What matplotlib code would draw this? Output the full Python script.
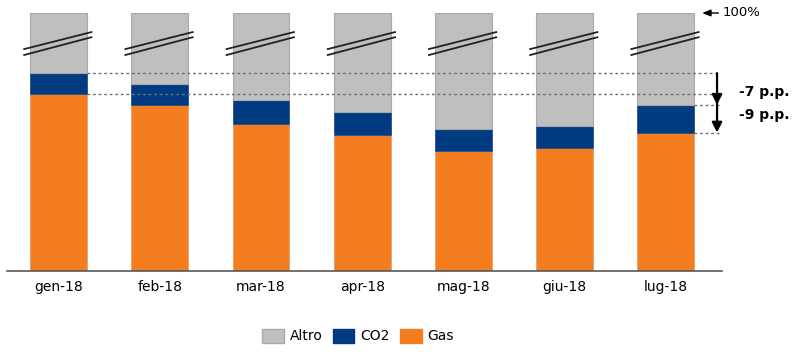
import numpy as np
import matplotlib
matplotlib.use("Agg")
import matplotlib.pyplot as plt
from matplotlib.transforms import blended_transform_factory
from matplotlib.patches import Patch

# ---- data ----
months = ["gen-18", "feb-18", "mar-18", "apr-18", "mag-18", "giu-18", "lug-18"]
gas = [40.2, 37.7, 33.4, 30.8, 27.1, 27.8, 31.4]
co2 = [4.7, 4.7, 5.4, 5.2, 5.1, 5.1, 6.3]
series_names = ["Altro", "CO2", "Gas"]
delta_labels = ["-7 p.p.", "-9 p.p."]
top_label = "100%"

gas_a = np.array(gas)
co2_a = np.array(co2)
altro_a = 100.0 - gas_a - co2_a
x = np.arange(len(months))

C_GAS = "#F47D20"
C_CO2 = "#003B82"
C_ALT = "#BFBFBF"

# broken-axis style scale: linear up to T, compressed above
T = 50.0
K = 0.1714


def fwd(v):
    v = np.asarray(v, dtype=float)
    return np.where(v <= T, v, T + (v - T) * K)


def inv(d):
    d = np.asarray(d, dtype=float)
    return np.where(d <= T, d, T + (d - T) / K)


fig = plt.figure(figsize=(7.99, 3.55), dpi=100)
ax = fig.add_axes([7 / 799, (355 - 270.7) / 355, 715 / 799, 257.7 / 355])
ax.set_yscale("function", functions=(fwd, inv))

w = 0.56
ax.bar(x, gas_a, w, color=C_GAS, edgecolor="#E0A070", linewidth=0.6, zorder=2)
ax.bar(x, co2_a, w, bottom=gas_a, color=C_CO2, edgecolor="#2A4F85", linewidth=0.6, zorder=2)
ax.bar(x, altro_a, w, bottom=gas_a + co2_a, color=C_ALT, edgecolor="#A9A9A9", linewidth=0.8, zorder=2)

ax.set_xlim(-0.51, 6.556)
ax.set_ylim(0, 100)

# break marks
bt = blended_transform_factory(ax.transData, ax.transAxes)
for xi in x:
    x0, x1 = xi - w / 2 - 0.06, xi + w / 2 + 0.045
    ax.plot([x0, x1], [0.860, 0.926], color="#222222", lw=1.3, transform=bt, zorder=4, clip_on=False)
    ax.plot([x0, x1], [0.837, 0.906], color="#222222", lw=1.3, transform=bt, zorder=4, clip_on=False)

# reference dashed lines
tot = gas_a + co2_a
xa = 6.507
xe = 6.535
dkw = dict(color="#707070", lw=1.0, linestyle=(0, (2, 2)), zorder=5, clip_on=False)
ax.plot([x[0] + w / 2, xe], [tot[0], tot[0]], **dkw)
ax.plot([x[0] + w / 2, xe], [gas_a[0], gas_a[0]], **dkw)
ax.plot([x[-1] + w / 2, xe], [tot[-1], tot[-1]], **dkw)
ax.plot([x[-1] + w / 2, xe], [gas_a[-1], gas_a[-1]], **dkw)

akw = dict(arrowstyle="-|>,head_length=0.6,head_width=0.3", color="black", lw=1.6,
           shrinkA=0, shrinkB=0)
ax.annotate("", xy=(xa, tot[-1]), xytext=(xa, tot[0]), arrowprops=akw, annotation_clip=False, zorder=6)
ax.annotate("", xy=(xa, gas_a[-1]), xytext=(xa, gas_a[0]), arrowprops=akw, annotation_clip=False, zorder=6)

ax.text(6.72, (tot[0] + tot[-1]) / 2 - 0.7, delta_labels[0], fontsize=10, fontweight="bold",
        va="center", ha="left", clip_on=False)
ax.text(6.72, (gas_a[0] + gas_a[-1]) / 2 - 0.3, delta_labels[1], fontsize=10, fontweight="bold",
        va="center", ha="left", clip_on=False)

# 100% marker
ax.annotate("", xy=(6.36, 100), xytext=(6.52, 100),
            arrowprops=dict(arrowstyle="-|>,head_length=0.5,head_width=0.2", color="black", lw=1.0,
                            shrinkA=0, shrinkB=0), annotation_clip=False)
ax.text(6.566, 100, top_label, fontsize=9.5, va="center", ha="left", clip_on=False)

# axes styling
for s in ["top", "right", "left"]:
    ax.spines[s].set_visible(False)
ax.spines["bottom"].set_color("#595959")
ax.spines["bottom"].set_linewidth(1.2)
ax.spines["bottom"].set_zorder(6)
ax.set_yticks([])
ax.yaxis.set_minor_locator(matplotlib.ticker.NullLocator())
ax.set_xticks(x)
ax.set_xticklabels(months, fontsize=10)
ax.tick_params(axis="x", length=0, pad=7)

handles = [Patch(facecolor=C_ALT, edgecolor="#A9A9A9"),
           Patch(facecolor=C_CO2, edgecolor=C_CO2),
           Patch(facecolor=C_GAS, edgecolor=C_GAS)]
fig.legend(handles, series_names, loc="center", bbox_to_anchor=(358 / 799, (355 - 336) / 355),
           ncol=3, frameon=False, fontsize=10, handlelength=1.58, handleheight=1.22,
           handletextpad=0.43, columnspacing=0.72, borderaxespad=0, borderpad=0)

fig.savefig("out.png", dpi=100)
